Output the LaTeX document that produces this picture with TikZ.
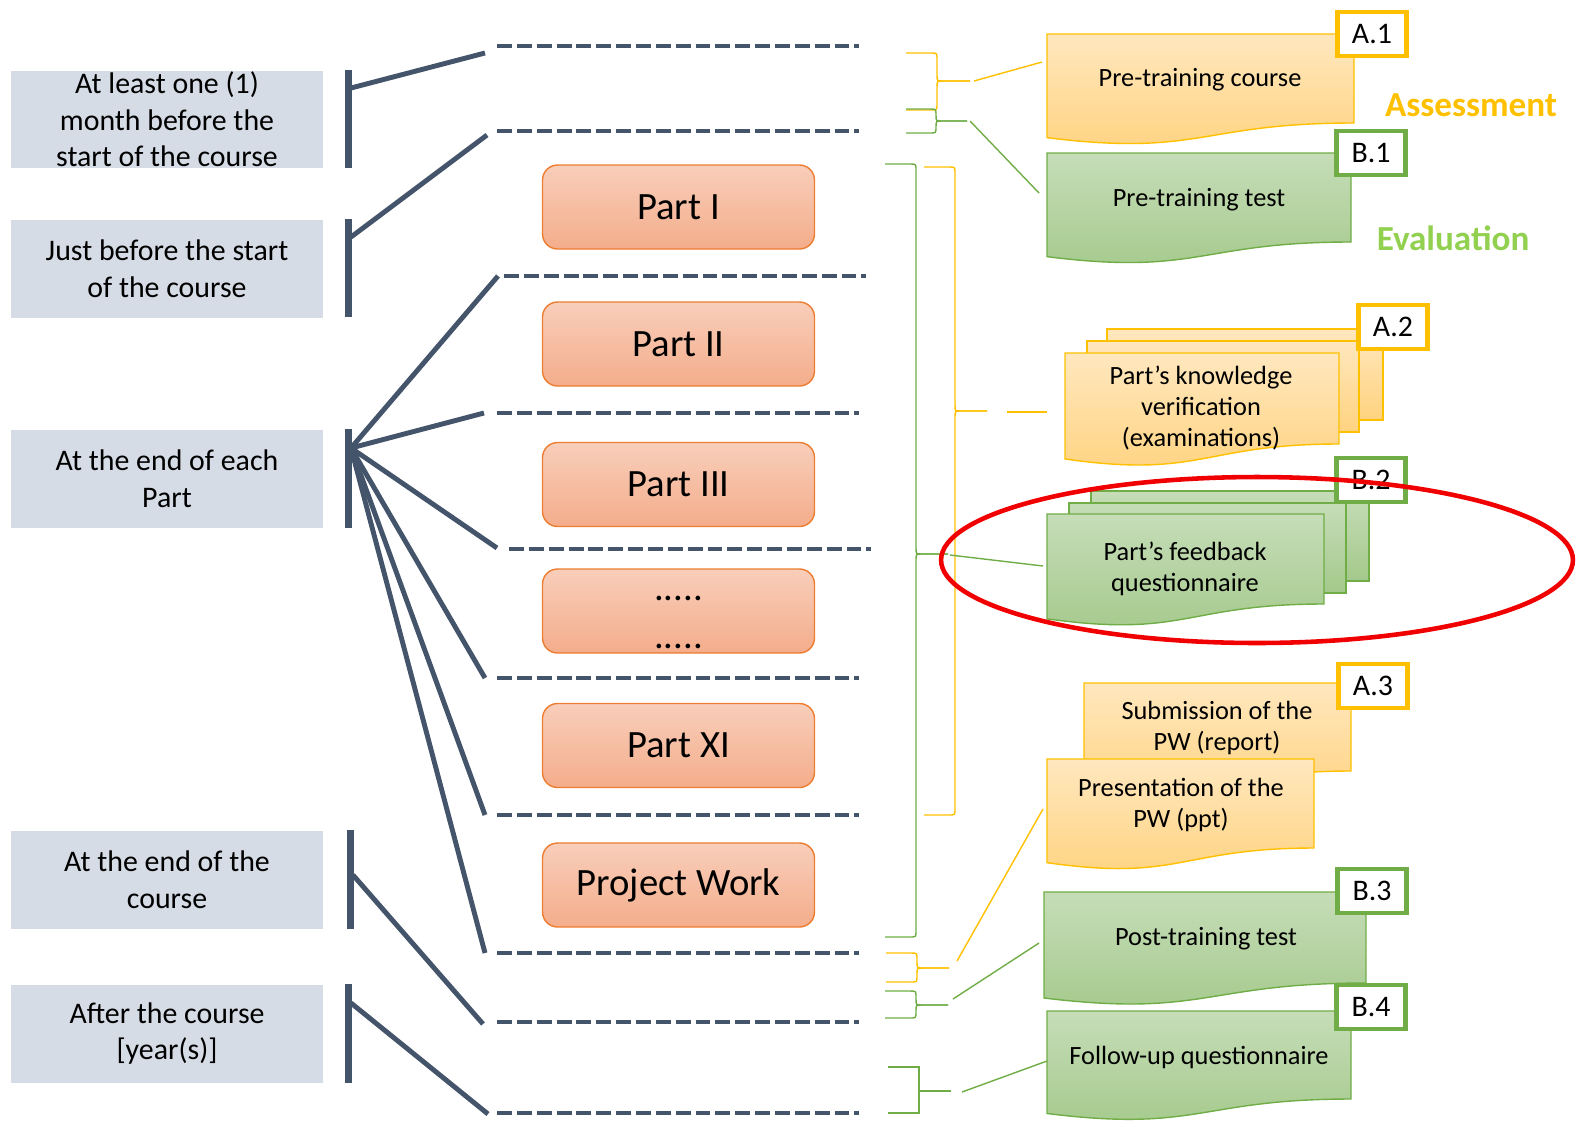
\documentclass[tikz,border=0pt]{standalone}
\usepackage{fontspec}
\setmainfont{Carlito}
\definecolor{greybox}{HTML}{D6DCE5}
\definecolor{darkline}{HTML}{44546A}
\definecolor{partA}{HTML}{F8CEBA}
\definecolor{partB}{HTML}{F4AD8B}
\definecolor{partborder}{HTML}{ED7D31}
\definecolor{yelA}{HTML}{FFE7BE}
\definecolor{yelB}{HTML}{FFD37F}
\definecolor{yelborder}{HTML}{FFC000}
\definecolor{grnA}{HTML}{C6DDB8}
\definecolor{grnB}{HTML}{A4C98B}
\definecolor{grnborder}{HTML}{70AD47}
\definecolor{evalgreen}{HTML}{92D050}
\definecolor{ellred}{HTML}{F00000}
\tikzset{
  timebox/.style={fill=greybox, minimum width=6.24cm, minimum height=1.96cm, inner sep=0pt, align=center, font=\fontsize{17}{20.8}\selectfont},
  darkbar/.style={draw=darkline, line width=4pt},
  conn/.style={draw=darkline, line width=2.8pt},
  sepline/.style={draw=darkline, line width=2.3pt, dash pattern=on 8.5pt off 2.8pt},
  partbox/.style={rounded corners=0.3cm, draw=partborder, line width=0.8pt, top color=partA, bottom color=partB, minimum width=5.44cm, minimum height=1.68cm, inner sep=0pt, font=\fontsize{22}{26}\selectfont},
  parttext/.style={inner sep=0pt, font=\fontsize{22}{26}\selectfont},
  labA/.style={draw=yelborder, line width=2.8pt, fill=white, minimum width=1.38cm, minimum height=0.88cm, inner sep=0pt, font=\fontsize{17}{20}\selectfont},
  labB/.style={labA, draw=grnborder},
  docY/.style={draw=yelborder, line width=0.8pt, top color=yelA, bottom color=yelB},
  docG/.style={draw=grnborder, line width=0.8pt, top color=grnA, bottom color=grnB},
  doctext/.style={align=center, font=\fontsize{15}{17.6}\selectfont, inner sep=0pt},
  braceY/.style={draw=yelborder, line width=0.8pt},
  braceG/.style={draw=grnborder, line width=0.8pt},
  cattext/.style={font=\fontsize{20}{24}\selectfont\bfseries, inner sep=0pt},
}
% document shape: style, x1, ytop, x2, y right bottom
\newcommand\docshape[5]{\path[#1] (#2,#3) -- (#4,#3) -- (#4,#5) .. controls ({(#2+#4)/2},#5) and ({(#2+#4)/2},{#3+(#5-#3)*1.38}) .. (#2,{#3+(#5-#3)*1.1646}) -- cycle;}
% curly brace: style, x ends, ytop, ymid, ybottom, x spine, x tip
\newcommand\cbrace[7]{\draw[#1] (#2,#3) -- ({#6-6},#3) .. controls (#6,#3) .. (#6,{#3+6}) -- (#6,{#4-6}) .. controls (#6,#4) .. ({#6+6},#4) -- (#7,#4);
\draw[#1] (#7,#4) -- ({#6+6},#4) .. controls (#6,#4) .. (#6,{#4+6}) -- (#6,{#5-6}) .. controls (#6,#5) .. ({#6-6},#5) -- (#2,#5);}
\begin{document}
\begin{tikzpicture}[x=0.02cm, y=-0.02cm]
\useasboundingbox (0,0) rectangle (1581,1120);

% time boxes
\node[timebox] (t1) at (167,119.5) {At least one (1)\\month before the\\start of the course};
\node[timebox] (t2) at (167,268.5) {Just before the start\\of the course};
\node[timebox] (t3) at (167,478.5) {At the end of each\\Part};
\node[timebox] (t4) at (167,879.5) {At the end of the\\course};
\node[timebox] (t5) at (167,1033.5) {After the course\\{[year(s)]}};

% bars
\draw[darkbar] (348.5,70) -- (348.5,168);
\draw[darkbar] (348.5,219) -- (348.5,317);
\draw[darkbar] (348.5,429) -- (348.5,528);
\draw[darkbar] (350.5,830) -- (350.5,929);
\draw[darkbar] (348.5,984) -- (348.5,1083);

% hubs
\coordinate (h1) at (351,88);
\coordinate (h2) at (351,237);
\coordinate (h3) at (351,448);
\coordinate (h4) at (353,875);
\coordinate (h5) at (351,1003);

% separators
\coordinate (d1w) at (497,46);   \coordinate (d1e) at (859,46);
\coordinate (d2w) at (497,131);  \coordinate (d2e) at (859,131);
\coordinate (d3w) at (504,276);  \coordinate (d3e) at (866,276);
\coordinate (d4w) at (497,413);  \coordinate (d4e) at (859,413);
\coordinate (d5w) at (509,549);  \coordinate (d5e) at (871,549);
\coordinate (d6w) at (497,678);  \coordinate (d6e) at (859,678);
\coordinate (d7w) at (497,815);  \coordinate (d7e) at (859,815);
\coordinate (d8w) at (497,953);  \coordinate (d8e) at (859,953);
\coordinate (d9w) at (497,1022); \coordinate (d9e) at (859,1022);
\coordinate (d10w) at (497,1113); \coordinate (d10e) at (859,1113);
\foreach \i in {1,...,10} {\draw[sepline] (d\i w) -- (d\i e);}

% connector ends
\coordinate (e1) at (485,53);
\coordinate (e2) at (487,135);
\coordinate (e3) at (498,276);
\coordinate (e4) at (484,413);
\coordinate (e5) at (497,548);
\coordinate (e6) at (485,678);
\coordinate (e7) at (485,815);
\coordinate (e8) at (485,953);
\coordinate (e9) at (483,1024);
\coordinate (e10) at (488,1114);
\draw[conn] (h1) -- (e1);
\draw[conn] (h2) -- (e2);
\foreach \i in {3,...,8} {\draw[conn] (h3) -- (e\i);}
\draw[conn] (h4) -- (e9);
\draw[conn] (h5) -- (e10);

% parts
\node[partbox] (p1) at (678.5,207) {Part I};
\node[partbox] (p2) at (678.5,344) {Part II};
\node[partbox] (p3) at (678.5,484.5) {Part III};
\node[partbox] (p4) at (678.5,611) {};
\node[parttext, anchor=base] (p4a) at (678.5,600) {.....};
\node[parttext, anchor=base] (p4b) at (678.5,648) {.....};
\node[partbox] (p5) at (678.5,745.5) {Part XI};
\node[partbox] (p6) at (678.5,885) {Project Work};

% braces
\cbrace{braceY}{906}{53}{81}{110}{937}{970}
\cbrace{braceG}{906}{109}{121}{133}{936}{967}
\cbrace{braceG}{885}{164}{554}{937}{916}{948}
\cbrace{braceY}{924}{167}{411}{815}{955}{987}
\cbrace{braceY}{886}{953}{968}{982}{917}{949}
\cbrace{braceG}{885}{991}{1005}{1018}{916}{948}
\draw[braceG, line width=1pt] (888,1067) -- (919,1067) -- (919,1113) -- (888,1113);
\draw[braceG, line width=1.6pt] (919,1091) -- (951,1091);

% documents
\docshape{docY}{1047}{34}{1354}{123}
\node[doctext] (a1t) at (1200,80) {Pre-training course};
\docshape{docG}{1047}{153}{1351}{242}
\node[doctext] (b1t) at (1199,200) {Pre-training test};

\path[docY] (1107,329) rectangle (1383,420);
\path[docY] (1087,341) rectangle (1359,432);
\docshape{docY}{1065}{353}{1339}{444}
\node[doctext] (a2t) at (1201,408) {Part’s knowledge\\verification\\(examinations)};

\path[docG] (1091,491) rectangle (1369,581);
\path[docG] (1069,503) rectangle (1346,593);
\docshape{docG}{1047}{514}{1324}{604}
\node[doctext] (b2t) at (1185,569) {Part’s feedback\\questionnaire};

\docshape{docY}{1084}{683}{1351}{771}
\node[doctext] (a3t) at (1217,728) {Submission of the\\PW (report)};
\docshape{docY}{1047}{759}{1314}{848}
\node[doctext] (a4t) at (1181,805) {Presentation of the\\PW (ppt)};

\docshape{docG}{1044}{892}{1366}{983}
\node[doctext] (b3t) at (1206,939) {Post-training test};
\docshape{docG}{1047}{1011}{1351}{1099}
\node[doctext] (b4t) at (1199,1057) {Follow-up questionnaire};

% labels
\node[labA] (la1) at (1372,34) {A.1};
\node[labB] (lb1) at (1371,153) {B.1};
\node[labA] (la2) at (1393,327) {A.2};
\node[labB] (lb2) at (1371,480) {B.2};
\node[labA] (la3) at (1373,686) {A.3};
\node[labB] (lb3) at (1372,891) {B.3};
\node[labB] (lb4) at (1371,1007) {B.4};

\node[cattext, text=yelborder] (assess) at (1471,105) {Assessment};
\node[cattext, text=evalgreen] (evalu) at (1453,238) {Evaluation};

% brace connectors
\coordinate (s1) at (974,81);   \coordinate (f1) at (1042,62);
\coordinate (s2) at (970,121);  \coordinate (f2) at (1039,193);
\coordinate (s3) at (950,555);  \coordinate (f3) at (1043,566);
\coordinate (s4) at (1007,412); \coordinate (f4) at (1047,412);
\coordinate (s5) at (957,961);  \coordinate (f5) at (1043,809);
\coordinate (s6) at (953,999);  \coordinate (f6) at (1039,943);
\coordinate (s7) at (962,1092); \coordinate (f7) at (1047,1061);
\draw[braceY] (s1) -- (f1);
\draw[braceG] (s2) -- (f2);
\draw[braceG] (s3) -- (f3);
\draw[braceY, line width=1.2pt] (s4) -- (f4);
\draw[braceY] (s5) -- (f5);
\draw[braceG] (s6) -- (f6);
\draw[braceG] (s7) -- (f7);

% highlight
\draw[ellred, line width=2.6pt] (1257,560) ellipse [x radius=6.32cm, y radius=1.66cm];
\end{tikzpicture}
\end{document}
